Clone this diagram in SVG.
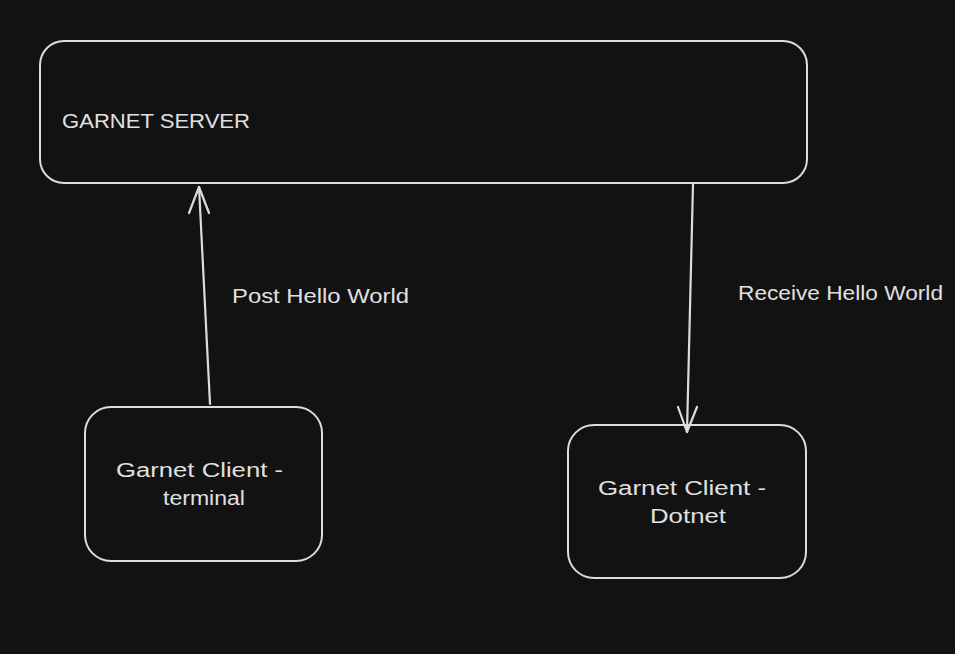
<svg xmlns="http://www.w3.org/2000/svg" width="955" height="654" viewBox="0 0 955 654">
<defs>
<style>
.box{fill:#121212;stroke:#dcdcdc;stroke-width:2}
.lbl{font-family:"Liberation Sans",Arial,sans-serif;font-size:20px;fill:#e0e0e0}
.edge{stroke:#dcdcdc;stroke-width:2.2;fill:none;stroke-linecap:round;stroke-linejoin:round}
</style>
</defs>
<rect width="955" height="654" fill="#121212"/>
<g id="server">
<rect class="box" x="40" y="41" width="767" height="142" rx="24"/>
<text class="lbl" x="62" y="128" textLength="188" lengthAdjust="spacingAndGlyphs">GARNET SERVER</text>
</g>
<g id="terminal">
<rect class="box" x="85" y="407" width="237" height="154" rx="26"/>
<text class="lbl" x="116" y="477" textLength="167" lengthAdjust="spacingAndGlyphs">Garnet Client -</text>
<text class="lbl" x="163" y="505" textLength="82" lengthAdjust="spacingAndGlyphs">terminal</text>
</g>
<g id="dotnet">
<rect class="box" x="568" y="425" width="238" height="153" rx="26"/>
<text class="lbl" x="598" y="495" textLength="168" lengthAdjust="spacingAndGlyphs">Garnet Client -</text>
<text class="lbl" x="650" y="523" textLength="76" lengthAdjust="spacingAndGlyphs">Dotnet</text>
</g>
<g id="connectors">
<path class="edge" d="M210 404 L199 187"/>
<path class="edge" d="M189 213 L199 187 L209 213"/>
<text class="lbl" x="232" y="303" textLength="177" lengthAdjust="spacingAndGlyphs">Post Hello World</text>
<path class="edge" d="M693 184 L687 432"/>
<path class="edge" d="M678 407 L687 432 L697 407"/>
<text class="lbl" x="738" y="300" textLength="205" lengthAdjust="spacingAndGlyphs">Receive Hello World</text>
</g>
</svg>
